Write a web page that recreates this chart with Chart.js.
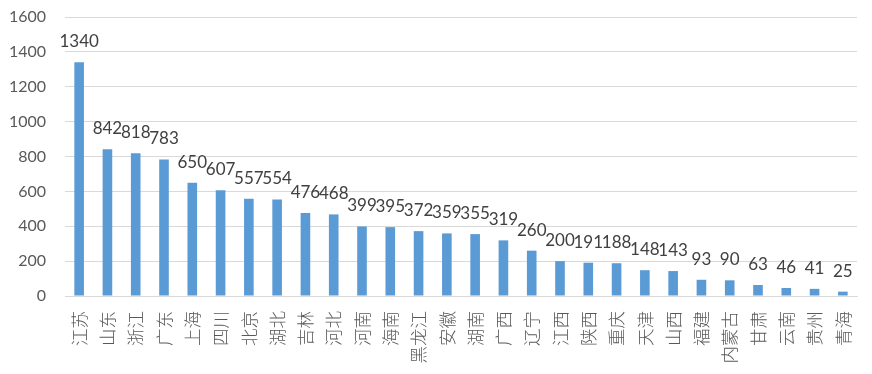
<!DOCTYPE html>
<html><head><meta charset="utf-8">
<script src="https://cdn.jsdelivr.net/npm/chart.js@4/dist/chart.umd.min.js"></script>
<style>html,body{margin:0;padding:0;background:#fff}#c{display:block}</style>
</head><body>
<canvas id="c" width="872" height="374"></canvas>
<script>
const categories = ['江苏','山东','浙江','广东','上海','四川','北京','湖北','吉林','河北','河南','海南','黑龙江','安徽','湖南','广西','辽宁','江西','陕西','重庆','天津','山西','福建','内蒙古','甘肃','云南','贵州','青海'];
const values = [1340,842,818,783,650,607,557,554,476,468,399,395,372,359,355,319,260,200,191,188,148,143,93,90,63,46,41,25];
const yTicks = [0,200,400,600,800,1000,1200,1400,1600];

const labelPlugin = {
  id: 'barLabels',
  afterDatasetsDraw(chart) {
    const ctx = chart.ctx;
    const meta = chart.getDatasetMeta(0);
    ctx.save();
    ctx.font = '17px Lato, "Liberation Sans", sans-serif';
    ctx.fillStyle = '#404040';
    ctx.textAlign = 'center';
    ctx.textBaseline = 'bottom';
    meta.data.forEach((bar, i) => {
      ctx.fillText(String(values[i]), bar.x, bar.y - 12);
    });
    ctx.restore();
  }
};

new Chart(document.getElementById('c'), {
  type: 'bar',
  data: { labels: categories, datasets: [{ data: values, backgroundColor: '#5B9BD5', barPercentage: 0.34, categoryPercentage: 1 }] },
  options: {
    responsive: false, animation: false,
    layout: { padding: { top: 0, right: 15, left: 0, bottom: 0 } },
    plugins: { legend: { display: false }, tooltip: { enabled: false } },
    scales: {
      x: {
        grid: { display: false, drawTicks: false },
        border: { color: '#d9d9d9', width: 1 },
        ticks: { maxRotation: 90, minRotation: 90, autoSkip: false, padding: 15, color: '#595959', font: { size: 17.5, family: '"Noto Sans CJK SC", sans-serif', weight: 300 } },
        afterFit(s) { s.height = 78; s.paddingLeft = 0; s.paddingRight = 0; }
      },
      y: {
        min: 0, max: 1600,
        afterBuildTicks(s) { s.ticks = yTicks.map(v => ({ value: v })); },
        grid: { color: '#d9d9d9', lineWidth: 1, drawTicks: false },
        border: { display: false },
        ticks: { padding: 19, color: '#595959', font: { size: 16, family: 'Lato, "Liberation Sans", sans-serif' }, callback: v => String(v) },
        afterFit(s) { s.width = 65; s.paddingTop = 17; s.paddingBottom = 0; }
      }
    }
  },
  plugins: [labelPlugin]
});
</script>
</body></html>
